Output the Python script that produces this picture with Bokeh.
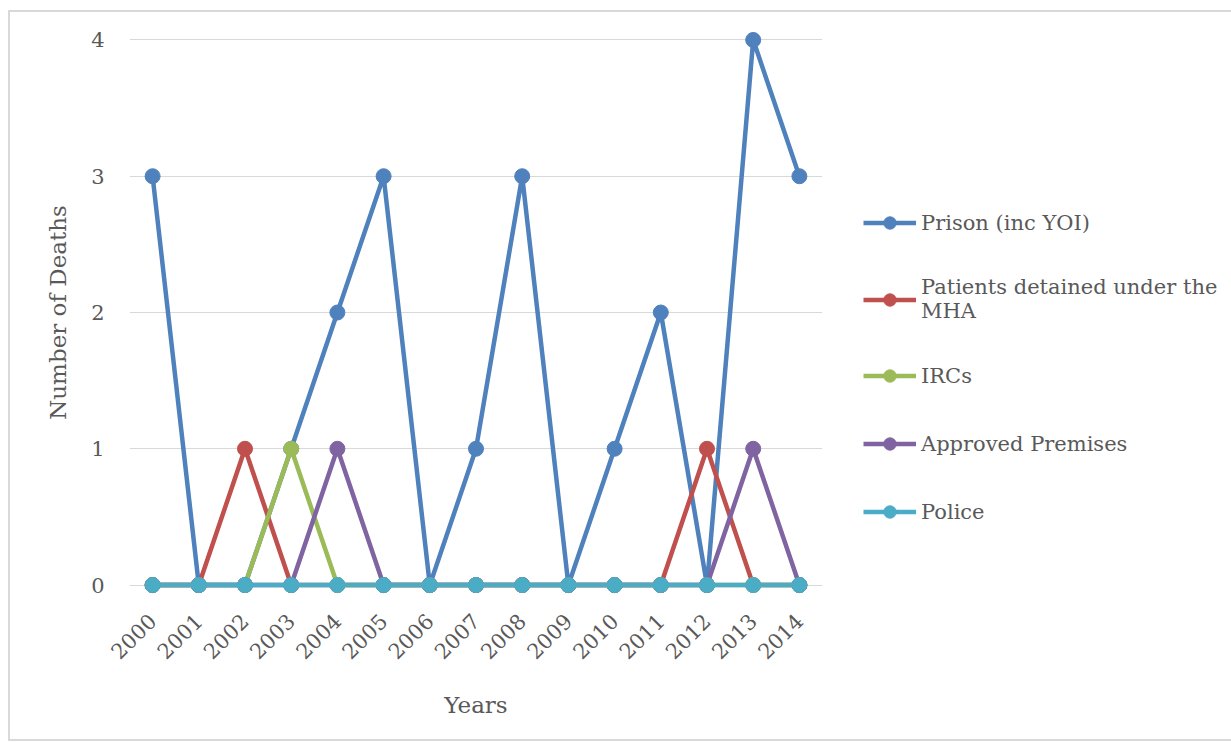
import numpy as np
from bokeh.plotting import figure
from bokeh.models import FactorRange, Range1d, FixedTicker, Legend, LegendItem
from bokeh.embed import file_html
from bokeh.resources import INLINE

years = [str(y) for y in range(2000, 2015)]
prison = [3, 0, 0, 1, 2, 3, 0, 1, 3, 0, 1, 2, 0, 4, 3]
patients = [0, 0, 1, 0, 0, 0, 0, 0, 0, 0, 0, 0, 1, 0, 0]
ircs = [0, 0, 0, 1, 0, 0, 0, 0, 0, 0, 0, 0, 0, 0, 0]
approved = [0, 0, 0, 0, 1, 0, 0, 0, 0, 0, 0, 0, 0, 1, 0]
police = [0] * 15

series_names = ["Prison (inc YOI)", "Patients detained under the\nMHA", "IRCs", "Approved Premises", "Police"]
series_values = [prison, patients, ircs, approved, police]
colors = ["#4F81BD", "#C0504D", "#9BBB59", "#8064A2", "#4BACC6"]
y_ticks = [0, 1, 2, 3, 4]

FONT = "DejaVu Serif"
TXT = "#595959"

p = figure(frame_width=693, frame_height=586, x_range=FactorRange(*years), y_range=Range1d(-0.15, 4.15),
           output_backend="svg", toolbar_location=None,
           min_border_left=119, min_border_right=406, min_border_top=7, min_border_bottom=134)
p.styles = {"border": "2px solid #d9d9d9", "margin-left": "8px", "margin-top": "10px"}
p.outline_line_color = None
p.background_fill_color = "white"
p.border_fill_color = "white"

p.xgrid.grid_line_color = None
p.ygrid.grid_line_color = "#d9d9d9"
p.ygrid.grid_line_width = 1
p.yaxis.ticker = FixedTicker(ticks=y_ticks)

for ax in (p.xaxis[0], p.yaxis[0]):
    ax.axis_line_color = None
    ax.major_tick_line_color = None
    ax.minor_tick_line_color = None
    ax.major_label_text_font = FONT
    ax.major_label_text_font_size = "21px"
    ax.major_label_text_color = TXT
    ax.axis_label_text_font = FONT
    ax.axis_label_text_font_size = "23px"
    ax.axis_label_text_font_style = "normal"
    ax.axis_label_text_color = TXT

p.xaxis.axis_label = "Years"
p.yaxis.axis_label = "Number of Deaths"
p.xaxis.major_label_orientation = np.pi / 4
p.xaxis.major_label_standoff = 6
p.yaxis.major_label_standoff = 19
p.xaxis.axis_label_standoff = 23
p.yaxis.axis_label_standoff = 17

items = []
for name, vals, c in zip(series_names, series_values, colors):
    r1 = p.line(years, vals, line_color=c, line_width=4.5)
    r2 = p.scatter(years, vals, marker="circle", size=15, fill_color=c, line_color=c)
    items.append(LegendItem(label=name, renderers=[r1, r2]))

legend = Legend(items=items, location=(41, 78))
legend.border_line_color = None
legend.background_fill_alpha = 0
legend.label_text_font = FONT
legend.label_text_font_size = "21px"
legend.label_text_color = TXT
legend.glyph_width = 53
legend.glyph_height = 31
legend.label_height = 20
legend.label_standoff = 5
legend.spacing = 37
legend.padding = 0
legend.margin = 0
p.add_layout(legend, "right")

open("out.html", "w").write(file_html(p, INLINE))
